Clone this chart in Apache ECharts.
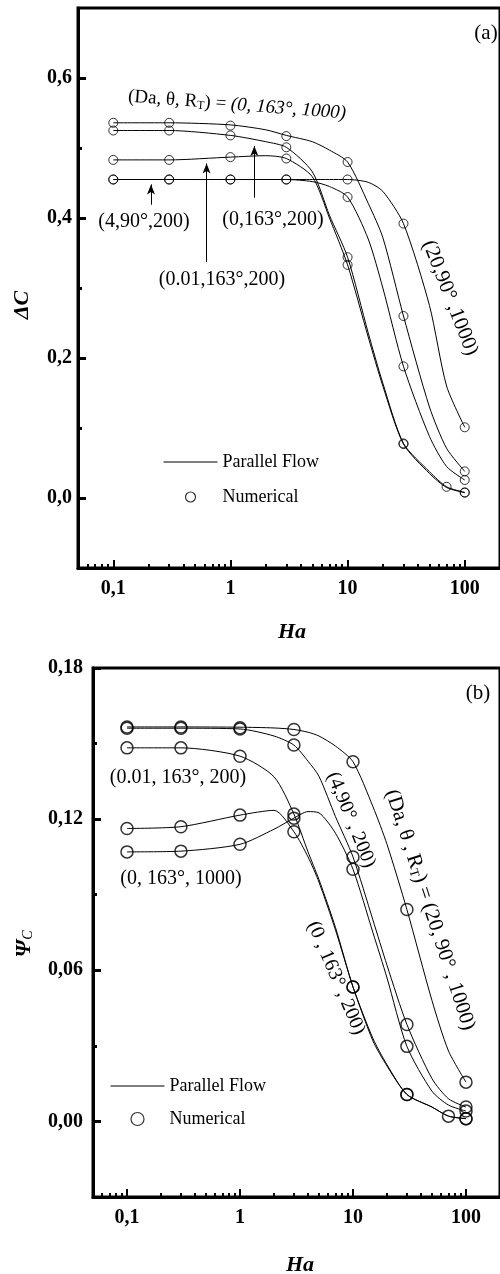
<!DOCTYPE html>
<html><head><meta charset="utf-8">
<script src="https://cdn.jsdelivr.net/npm/echarts@6/dist/echarts.min.js"></script>
<style>html,body{margin:0;padding:0;background:#fff}#c{width:500px;height:1274px}</style>
</head><body><div id="c"></div>
<script>
// ---------- shared Ha values ----------
const haPts = [0.1, 0.3, 1, 3, 10, 30, 100];
const haPts70 = [0.1, 0.3, 1, 3, 10, 30, 70, 100];
const haCurveA = [0.1, 0.3, 1, 2, 3, 5, 7, 10, 15, 20, 30, 50, 70, 100];
const haCurveB = [0.1, 0.3, 1, 2, 3, 4, 5, 7, 10, 15, 20, 30, 50, 70, 100];
const xMajor = [0.1, 1, 10, 100];
const xMinor = [0.06, 0.07, 0.08, 0.09, 0.2, 0.3, 0.4, 0.5, 0.6, 0.7, 0.8, 0.9, 2, 3, 4, 5, 6, 7, 8, 9, 20, 30, 40, 50, 60, 70, 80, 90];

// ---------- panel (a): ΔC ----------
const yMajorA = [0, 0.2, 0.4, 0.6];
const yMinorA = [0.1, 0.3, 0.5];
// numerical points
const numA_0_163_1000 = [0.536, 0.536, 0.532, 0.517, 0.480, 0.260, 0.038];
const numA_0_163_200  = [0.525, 0.525, 0.518, 0.501, 0.344, 0.078, 0.016, 0.008]; // at haPts70
const numA_001_163_200 = [0.483, 0.483, 0.487, 0.485, 0.333, 0.077, 0.0076];
const numA_20_90_1000 = [0.455, 0.455, 0.455, 0.455, 0.455, 0.392, 0.101];
const numA_4_90_200   = [0.455, 0.455, 0.455, 0.455, 0.430, 0.188, 0.0257];
// parallel-flow curves (at haCurveA)
const curA_0_163_1000 = [0.536, 0.536, 0.533, 0.526, 0.518, 0.509, 0.497, 0.480, 0.421, 0.372, 0.260, 0.130, 0.071, 0.038];
const curA_0_163_200  = [0.525, 0.525, 0.518, 0.509, 0.501, 0.466, 0.404, 0.344, 0.236, 0.164, 0.078, 0.0376, 0.016, 0.008];
const curA_001_163_200 = [0.483, 0.483, 0.487, 0.489, 0.485, 0.459, 0.400, 0.333, 0.230, 0.160, 0.077, 0.035, 0.015, 0.0076];
const curA_20_90_1000 = [0.455, 0.455, 0.455, 0.455, 0.455, 0.455, 0.455, 0.455, 0.451, 0.438, 0.392, 0.275, 0.160, 0.101];
const curA_4_90_200   = [0.455, 0.455, 0.455, 0.455, 0.455, 0.452, 0.445, 0.430, 0.370, 0.300, 0.188, 0.088, 0.045, 0.0257];

// ---------- panel (b): Ψc ----------
const yMajorB = [0, 0.06, 0.12, 0.18];
const yMinorB = [0.03, 0.09, 0.15];
const numB_20_90_1000 = [0.1566, 0.1566, 0.1563, 0.1556, 0.1428, 0.0841, 0.0156];
const numB_4_90_200   = [0.1561, 0.1561, 0.1558, 0.1494, 0.1050, 0.0385, 0.0057];
const numB_001_163_200 = [0.1483, 0.1483, 0.1450, 0.1220, 0.0534, 0.0107, 0.0021, 0.0011]; // at haPts70
const numB_0_163_200  = [0.1163, 0.1170, 0.1216, 0.1150, 0.0534, 0.0107, 0.0011];
const numB_0_163_1000 = [0.1070, 0.1073, 0.1100, 0.1204, 0.1001, 0.0298, 0.0041];
// curves (at haCurveB)
const curB_20_90_1000 = [0.1566, 0.1566, 0.1565, 0.1562, 0.1556, 0.1545, 0.1530, 0.1490, 0.1428, 0.1250, 0.1100, 0.0841, 0.0480, 0.0280, 0.0156];
const curB_4_90_200   = [0.1561, 0.1561, 0.1558, 0.1530, 0.1494, 0.1430, 0.1370, 0.1210, 0.1050, 0.0800, 0.0620, 0.0385, 0.0170, 0.0090, 0.0057];
const curB_001_163_200 = [0.1483, 0.1483, 0.1450, 0.1368, 0.1220, 0.1070, 0.0960, 0.0770, 0.0534, 0.0330, 0.0225, 0.0107, 0.0057, 0.0021, 0.0011];
const curB_0_163_200  = [0.1163, 0.1170, 0.1216, 0.1235, 0.1150, 0.1050, 0.0950, 0.0760, 0.0534, 0.0320, 0.0220, 0.0107, 0.0057, 0.0021, 0.0011];
const curB_0_163_1000 = [0.1070, 0.1073, 0.1100, 0.1160, 0.1204, 0.1230, 0.1225, 0.1144, 0.1001, 0.0750, 0.0570, 0.0298, 0.0120, 0.0065, 0.0041];

// arrows in panel (a): [Ha, yFrom, yTo]
const arrowsA = [[0.21, 0.419, 0.448], [0.626, 0.337, 0.478], [1.6, 0.429, 0.503]];

const SERIF = '"Liberation Serif", "Times New Roman", serif';
const zip = (xs, ys) => ys.map((v, i) => [xs[i], v]);

function lineS(xs, ys, gi) {
  return { type: 'line', name: 'Parallel Flow', xAxisIndex: gi * 2, yAxisIndex: gi * 2,
    data: zip(xs, ys), symbol: 'none', smooth: 0.25,
    lineStyle: { color: '#000', width: 1 }, itemStyle: { color: '#000' }, z: 3 };
}
function scatS(xs, ys, gi, size, bw) {
  return { type: 'scatter', name: 'Numerical', xAxisIndex: gi * 2, yAxisIndex: gi * 2,
    data: zip(xs, ys), symbol: 'circle', symbolSize: size,
    itemStyle: { color: 'rgba(0,0,0,0)', borderColor: '#000', borderWidth: bw }, z: 4 };
}

function xAxes(gi) {
  return [
    { type: 'log', gridIndex: gi, position: 'bottom', min: 0.05, max: 200, logBase: 10,
      axisLine: { onZero: false, lineStyle: { color: '#000', width: 3 } },
      axisTick: { inside: true, length: 8, lineStyle: { color: '#000', width: 2 }, customValues: xMajor },
      axisLabel: { customValues: xMajor, color: '#000', fontFamily: SERIF, fontWeight: 'bold', fontSize: 20, margin: 11,
        formatter: v => v < 1 ? v.toFixed(1).replace('.', ',') : String(Math.round(v)) },
      splitLine: { show: false }, minorTick: { show: false } },
    { type: 'log', gridIndex: gi, position: 'bottom', min: 0.05, max: 200, logBase: 10,
      axisLine: { show: false, onZero: false },
      axisTick: { inside: true, length: 4, lineStyle: { color: '#000', width: 2 }, customValues: xMinor },
      axisLabel: { show: false }, splitLine: { show: false } }
  ];
}
function yAxes(gi, min, max, major, minor, dec, margin) {
  return [
    { type: 'value', gridIndex: gi, position: 'left', min, max,
      axisLine: { show: true, onZero: false, lineStyle: { color: '#000', width: 3 } },
      axisTick: { show: true, inside: true, length: 8, lineStyle: { color: '#000', width: 3 }, customValues: major },
      axisLabel: { customValues: major, color: '#000', fontFamily: SERIF, fontWeight: 'bold', fontSize: 20, margin,
        formatter: v => v.toFixed(dec).replace('.', ',') },
      splitLine: { show: false } },
    { type: 'value', gridIndex: gi, position: 'left', min, max,
      axisLine: { show: false, onZero: false },
      axisTick: { show: true, inside: true, length: 4, lineStyle: { color: '#000', width: 3 }, customValues: minor },
      axisLabel: { show: false }, splitLine: { show: false } }
  ];
}

function txt(x, y, text, size, opts) {
  opts = opts || {};
  return { type: 'text', x, y, rotation: (opts.rot || 0) * Math.PI / 180, z: 10,
    style: { text, fill: '#000', font: (opts.font || '') + ' ' + size + 'px ' + SERIF,
      align: 'center', verticalAlign: 'middle', rich: opts.rich } };
}
const richRT = (fs) => ({
  n: { fontSize: fs, fontFamily: SERIF, fill: '#000' },
  i: { fontSize: fs, fontFamily: SERIF, fontStyle: 'italic', fill: '#000' },
  s: { fontSize: Math.round(fs * 0.62), fontFamily: SERIF, fill: '#000', verticalAlign: 'bottom' }
});

const series = [
  lineS(haCurveA, curA_0_163_1000, 0), lineS(haCurveA, curA_0_163_200, 0), lineS(haCurveA, curA_001_163_200, 0),
  lineS(haCurveA, curA_20_90_1000, 0), lineS(haCurveA, curA_4_90_200, 0),
  scatS(haPts, numA_0_163_1000, 0, 9, 1), scatS(haPts70, numA_0_163_200, 0, 9, 1), scatS(haPts, numA_001_163_200, 0, 9, 1),
  scatS(haPts, numA_20_90_1000, 0, 9, 1), scatS(haPts, numA_4_90_200, 0, 9, 1),
  lineS(haCurveB, curB_20_90_1000, 1), lineS(haCurveB, curB_4_90_200, 1), lineS(haCurveB, curB_001_163_200, 1),
  lineS(haCurveB, curB_0_163_200, 1), lineS(haCurveB, curB_0_163_1000, 1),
  scatS(haPts, numB_20_90_1000, 1, 12, 1.5), scatS(haPts, numB_4_90_200, 1, 12, 1.5), scatS(haPts70, numB_001_163_200, 1, 12, 1.5),
  scatS(haPts, numB_0_163_200, 1, 12, 1.5), scatS(haPts, numB_0_163_1000, 1, 12, 1.5)
];
series[5].markLine = {
  silent: true, animation: false, label: { show: false },
  lineStyle: { color: '#000', width: 1, type: 'solid' },
  data: arrowsA.map(a => [{ coord: [a[0], a[1]], symbol: 'none' }, { coord: [a[0], a[2]], symbol: 'arrow', symbolSize: [6, 10] }])
};

const legendBase = (left, top, gap, ih) => ({
  left, top, orient: 'vertical', itemWidth: 54, itemHeight: ih, itemGap: gap, selectedMode: false,
  textStyle: { color: '#000', fontFamily: SERIF, fontSize: 18 },
  data: [
    { name: 'Parallel Flow', itemStyle: { color: 'rgba(0,0,0,0)', borderColor: 'rgba(0,0,0,0)', borderWidth: 0 }, lineStyle: { color: '#000', width: 1 } },
    { name: 'Numerical', itemStyle: { color: 'rgba(0,0,0,0)', borderColor: '#000', borderWidth: 1.2 } }
  ]
});

const option = {
  animation: false,
  backgroundColor: '#fff',
  grid: [
    { left: 78, top: 8, width: 425.5, height: 560, show: true, borderColor: '#000', borderWidth: 3, backgroundColor: 'transparent' },
    { left: 93, top: 668, width: 410, height: 529, show: true, borderColor: '#000', borderWidth: 3, backgroundColor: 'transparent' }
  ],
  xAxis: [...xAxes(0), ...xAxes(1)],
  yAxis: [...yAxes(0, -0.1, 0.7, yMajorA, yMinorA, 1, 6), ...yAxes(1, -0.03, 0.18, yMajorB, yMinorB, 2, 10)],
  legend: [legendBase(158, 448, 17, 10), legendBase(105, 1072, 15, 13)],
  series,
  graphic: [
    txt(486, 33, '(a)', 21),
    txt(237, 105, '{n|(Da, θ, R}{s|T}{n|) = }{i|(0, 163°, 1000)}', 19, { rot: -4.5, rich: richRT(19) }),
    txt(144, 222, '(4,90°,200)', 20),
    txt(273, 220, '(0,163°,200)', 20),
    txt(222, 280, '(0.01,163°,200)', 20),
    txt(450, 298, '(20,90° ,1000)', 21, { rot: -68.6 }),
    txt(292, 632, 'Ha', 22, { font: 'italic bold' }),
    txt(22, 305, 'ΔC', 22, { font: 'italic bold', rot: 90 }),
    txt(478, 693, '(b)', 21),
    txt(178, 778, '(0.01, 163°, 200)', 20),
    txt(181, 879, '(0, 163°, 1000)', 20),
    txt(351, 820, '(4,90° , 200)', 20, { rot: -67.8 }),
    txt(430, 910, '{n|(Da, θ , R}{s|T}{n|) = (20, 90° , 1000)}', 21, { rot: -72, rich: richRT(21) }),
    txt(336, 978, '(0 , 163° , 200)', 20, { rot: -67 }),
    txt(300, 1265, 'Ha', 22, { font: 'italic bold' }),
    txt(24, 944, '{p|Ψ}{c|C}', 22, { rot: 90, rich: {
      p: { fontSize: 22, fontFamily: SERIF, fontStyle: 'italic', fontWeight: 'bold', fill: '#000' },
      c: { fontSize: 14, fontFamily: SERIF, fontStyle: 'italic', fill: '#000', verticalAlign: 'bottom' } } })
  ]
};
const chart = echarts.init(document.getElementById('c'), null, { renderer: 'canvas' });
chart.setOption(option);
</script>
</body></html>
